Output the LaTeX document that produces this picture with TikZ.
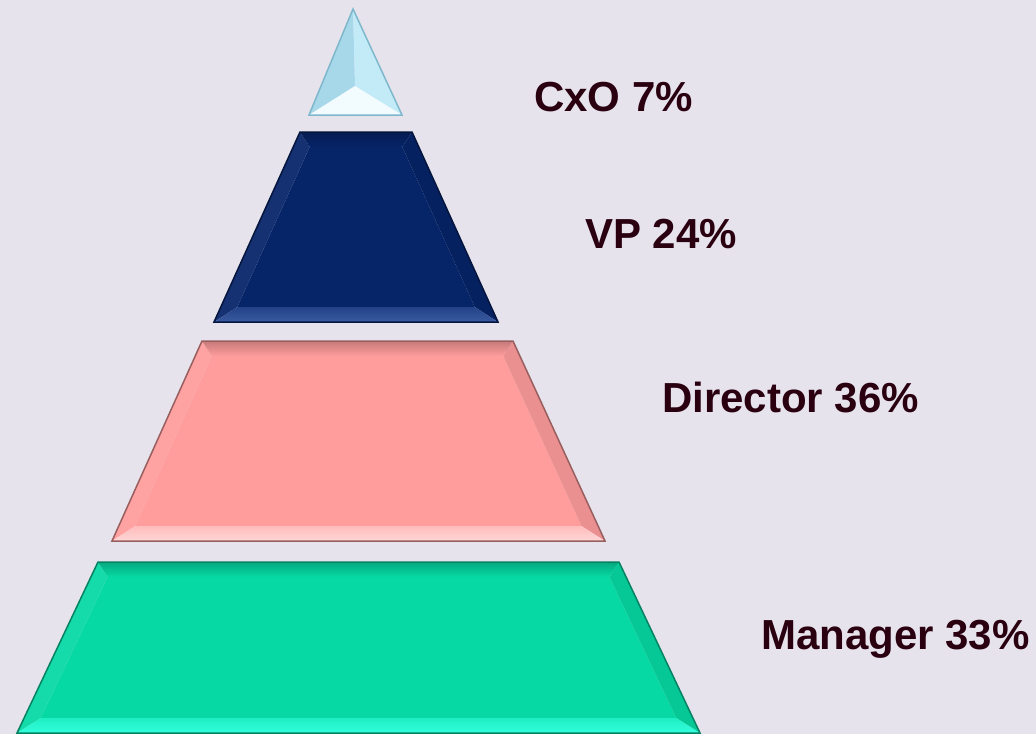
\documentclass[tikz,border=0pt]{standalone}
\usepackage{fontspec}
\setmainfont{Liberation Sans}

\definecolor{bgLav}{HTML}{E6E3EC}
\definecolor{txtMaroon}{HTML}{2A0010}
% CxO triangle faces
\definecolor{cxoLeft}{HTML}{A6D8EA}
\definecolor{cxoRight}{HTML}{C2EBF7}
\definecolor{cxoLow}{HTML}{F2FCFF}
\definecolor{cxoEdge}{HTML}{7FB8CC}
% trapezoid base and highlight colours
\definecolor{vpNavy}{HTML}{062468}
\definecolor{vpHi}{HTML}{3A5AA0}
\definecolor{dirPink}{HTML}{FF9C9C}
\definecolor{dirHi}{HTML}{FFD6D6}
\definecolor{mgrGreen}{HTML}{06D9A4}
\definecolor{mgrHi}{HTML}{33FFDD}

\tikzset{
  tierlabel/.style={anchor=base west, inner sep=0pt, text=txtMaroon,
    font=\fontsize{42}{50}\selectfont\bfseries},
}

\begin{document}
\begin{tikzpicture}[x=1pt, y=-1pt]
  \fill[bgLav] (0,0) rectangle (1036,734); % Background
  \useasboundingbox (0,0) rectangle (1036,734);

  % Top tier: bevelled triangle (three faces)
  \fill[cxoLeft] (353,9) -- (309,115) -- (355,86) -- cycle;
  \fill[cxoRight] (353,9) -- (402,115) -- (355,86) -- cycle;
  \fill[cxoLow] (309,115) -- (402,115) -- (355,86) -- cycle;
  \draw[cxoEdge, line width=1.5] (353,9) -- (309,115) -- (402,115) -- cycle;

  % Lower tiers: top y / bottom y / top left / top right / bottom left / bottom right / colour / highlight
  \foreach \ty/\by/\tl/\tr/\bl/\br/\c/\hc in {
      132/322/300/412/214/498/vpNavy/vpHi,
      341/541/202/513/112/605/dirPink/dirHi,
      562/733/98/619/17/700/mgrGreen/mgrHi} {
    \pgfmathsetmacro{\bev}{15}
    \pgfmathsetmacro{\lslope}{(\tl-\bl)/(\by-\ty)}
    \pgfmathsetmacro{\rslope}{(\br-\tr)/(\by-\ty)}
    \pgfmathsetmacro{\itl}{\tl - \lslope*\bev + \bev*sqrt(1+\lslope*\lslope)}
    \pgfmathsetmacro{\ibl}{\bl + \lslope*\bev + \bev*sqrt(1+\lslope*\lslope)}
    \pgfmathsetmacro{\itr}{\tr + \rslope*\bev - \bev*sqrt(1+\rslope*\rslope)}
    \pgfmathsetmacro{\ibr}{\br - \rslope*\bev - \bev*sqrt(1+\rslope*\rslope)}
    \fill[\c] (\itl,\ty+\bev) -- (\itr,\ty+\bev) -- (\ibr,\by-\bev) -- (\ibl,\by-\bev) -- cycle; % face
    \fill[\c!94!white] (\tl,\ty) -- (\itl,\ty+\bev) -- (\ibl,\by-\bev) -- (\bl,\by) -- cycle; % left bevel
    \fill[\c!92!black] (\tr,\ty) -- (\itr,\ty+\bev) -- (\ibr,\by-\bev) -- (\br,\by) -- cycle; % right bevel
    \shade[top color=\c!78!black, bottom color=\c] (\tl,\ty) -- (\tr,\ty) -- (\itr,\ty+\bev) -- (\itl,\ty+\bev) -- cycle; % top bevel
    \shade[top color=\hc!55!\c, bottom color=\hc] (\bl,\by) -- (\br,\by) -- (\ibr,\by-\bev) -- (\ibl,\by-\bev) -- cycle; % bottom bevel
    \draw[\c!60!black, line width=1.5] (\tl,\ty) -- (\tr,\ty) -- (\br,\by) -- (\bl,\by) -- cycle;
  }

  % Labels
  \node[tierlabel] (cxo) at (534,111) {CxO 7\%};
  \node[tierlabel] (vp) at (585,248) {VP 24\%};
  \node[tierlabel] (director) at (662,412) {Director 36\%};
  \node[tierlabel] (manager) at (761,649) {Manager 33\%};
\end{tikzpicture}
\end{document}
